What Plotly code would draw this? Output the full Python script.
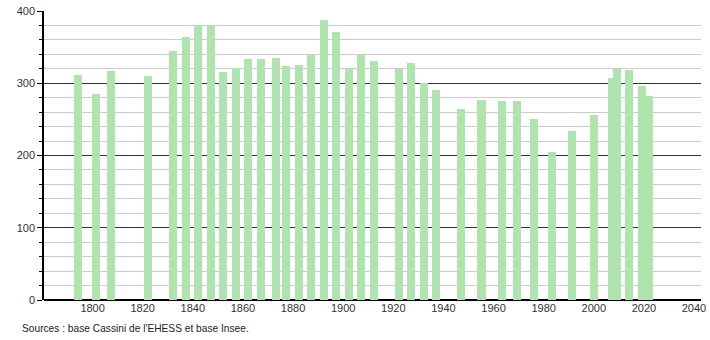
import plotly.graph_objects as go

years = [1793, 1800, 1806, 1821, 1831, 1836, 1841, 1846, 1851, 1856,
         1861, 1866, 1872, 1876, 1881, 1886, 1891, 1896, 1901, 1906,
         1911, 1921, 1926, 1931, 1936, 1946, 1954, 1962, 1968, 1975,
         1982, 1990, 1999, 2006, 2008, 2013, 2018, 2021]
population = [311, 285, 317, 310, 345, 364, 380, 380, 316, 321,
              333, 333, 335, 324, 325, 340, 388, 371, 320, 340,
              331, 320, 328, 301, 290, 264, 277, 275, 275, 250,
              205, 234, 256, 307, 320, 318, 296, 283]
x_ticks = [1800, 1820, 1840, 1860, 1880, 1900, 1920, 1940, 1960, 1980, 2000, 2020, 2040]
y_ticks = [0, 100, 200, 300, 400]
source_text = "Sources : base Cassini de l'EHESS et base Insee."

fig = go.Figure()
fig.add_trace(go.Bar(
    x=years, y=population, width=3.2,
    marker=dict(color="#b0e3b0", line=dict(width=0)),
    hoverinfo="x+y",
))

fig.update_layout(
    width=710, height=340,
    margin=dict(l=44, r=9, t=11, b=40, autoexpand=False),
    paper_bgcolor="white", plot_bgcolor="white",
    showlegend=False,
    font=dict(family="Liberation Sans, Arial, sans-serif", size=11, color="#333333"),
    bargap=0,
)
fig.update_xaxes(
    range=[1779.4, 2041.6], automargin=False,
    tickmode="array", tickvals=x_ticks, ticktext=[str(v) for v in x_ticks],
    showgrid=False, zeroline=False, ticks="",
    showline=False, ticklabelshift=-3,
    tickfont=dict(size=11, color="#333333"),
)
fig.update_yaxes(
    range=[0, 400], automargin=False,
    tickmode="array", tickvals=y_ticks,
    showgrid=True, gridcolor="#333333", gridwidth=1,
    zeroline=True, zerolinecolor="#000000", zerolinewidth=1.5,
    showline=True, linecolor="#000000", linewidth=1.5,
    ticks="outside", ticklen=5, tickcolor="#000000", tickwidth=1,
    minor=dict(dtick=20, showgrid=True, gridcolor="#cccccc", gridwidth=1,
               ticks="outside", ticklen=3, tickcolor="#000000", tickwidth=1),
    tickfont=dict(size=11, color="#333333"),
)
fig.add_annotation(
    text=source_text, xref="paper", yref="paper",
    x=-0.037, y=-0.072, xanchor="left", yanchor="top",
    showarrow=False, font=dict(size=10.2, color="#222222"),
)
fig.write_html("out.html")
